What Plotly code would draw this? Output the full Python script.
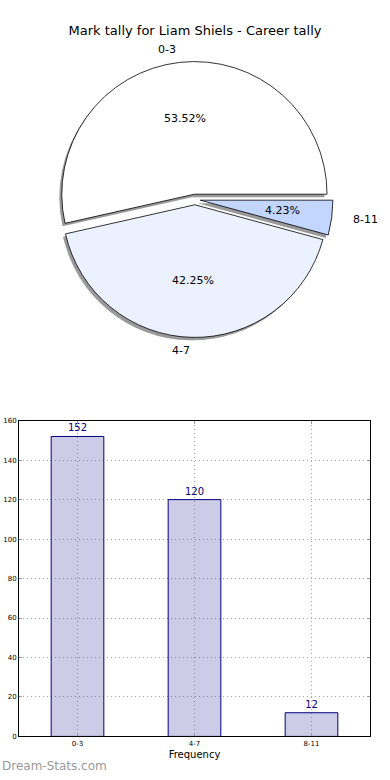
import math
import plotly.graph_objects as go

# ---- data ----
categories = ["0-3", "4-7", "8-11"]
counts = [152, 120, 12]
pie_colors = ["#FFFFFF", "#EBF1FE", "#C2D6FF"]
title_text = "Mark tally for Liam Shiels - Career tally"
y_ticks = [0, 20, 40, 60, 80, 100, 120, 140, 160]

W, H = 390, 780
FONT = "DejaVu Sans"

# pie geometry (pixels)
cx, cy = 195.0, 197.5
pull = 0.04
R = 134.0
Rdom = R * (1 + pull)

total = sum(counts)
# plotly places first slice clockwise from rotation even in ccw mode;
# we want slice 0 to start at 3 o'clock and run counter-clockwise
rot = 90 - 360.0 * counts[0] / total


def dom_x(c, r):
    return [(c - r) / W, (c + r) / W]


def dom_y(c, r):
    return [1 - (c + r) / H, 1 - (c - r) / H]


fig = go.Figure()

# shadow
fig.add_trace(go.Pie(
    values=counts, labels=categories, sort=False,
    direction="counterclockwise", rotation=rot,
    pull=[pull] * len(counts),
    marker=dict(colors=["#9a9a9a"] * len(counts), line=dict(width=0)),
    textinfo="none", hoverinfo="skip", showlegend=False,
    domain=dict(x=dom_x(cx - 2.5, Rdom), y=dom_y(cy + 3, Rdom)),
))
# main pie
fig.add_trace(go.Pie(
    values=counts, labels=categories, sort=False,
    direction="counterclockwise", rotation=rot,
    pull=[pull] * len(counts),
    marker=dict(colors=pie_colors, line=dict(color="black", width=0.8)),
    textinfo="none", showlegend=False,
    domain=dict(x=dom_x(cx, Rdom), y=dom_y(cy, Rdom)),
))

annotations = []
cum = 0
for cat, v in zip(categories, counts):
    theta = 2 * math.pi * (cum + v / 2) / total
    cum += v
    c, s = math.cos(theta), math.sin(theta)
    # percentage text
    rp = 0.6 * R + pull * R
    px = cx + rp * 1.03 * c
    py = cy - rp * 0.96 * s
    annotations.append(dict(
        x=px / W, y=1 - py / H, xref="paper", yref="paper",
        text=f"{100 * v / total:.2f}%", showarrow=False,
        font=dict(family=FONT, size=11, color="black"),
        xanchor="center", yanchor="middle"))
    # outside label
    rl = 1.1 * R + pull * R
    lx = cx + rl * 1.03 * c
    ly = cy - rl * s
    annotations.append(dict(
        x=lx / W, y=1 - ly / H, xref="paper", yref="paper",
        text=cat, showarrow=False,
        font=dict(family=FONT, size=11, color="black"),
        xanchor="left" if c > 0 else "right", yanchor="middle"))

# bar chart
fig.add_trace(go.Bar(
    x=categories, y=counts, width=0.45,
    marker=dict(color="rgba(0,0,128,0.2)", line=dict(color="#000080", width=1)),
    text=[str(v) for v in counts], textposition="outside",
    textfont=dict(family=FONT, size=10, color="#000080"),
    cliponaxis=False, showlegend=False,
    xaxis="x", yaxis="y",
))

annotations.append(dict(
    x=0.0, y=1 - 770 / H, xref="paper", yref="paper",
    text="Dream-Stats.com", showarrow=False,
    font=dict(family=FONT, size=12, color="#9a9a9a"),
    xanchor="left", yanchor="middle"))

grid = dict(showgrid=True, gridcolor="#a8a8a8", griddash="1px,3px", gridwidth=1)

fig.update_layout(
    width=W, height=H,
    margin=dict(l=0, r=0, t=0, b=0),
    paper_bgcolor="white", plot_bgcolor="white",
    font=dict(family=FONT, color="black"),
    title=dict(text=title_text, x=0.5, xanchor="center",
               y=1 - 30 / H, yanchor="middle", yref="container",
               font=dict(family=FONT, size=13, color="black")),
    xaxis=dict(domain=[19 / W, 370 / W], type="category",
               range=[-0.5, 2.5], anchor="y",
               showline=True, linecolor="black", linewidth=1, mirror="ticks",
               ticks="inside", ticklen=3, tickcolor="#999",
               tickfont=dict(family=FONT, size=7, color="black"),
               title=dict(text="Frequency", standoff=4,
                          font=dict(family=FONT, size=10, color="black")),
               zeroline=False, fixedrange=True, **grid),
    yaxis=dict(domain=[1 - 740 / H, 1 - 421 / H], range=[0, 160],
               tickvals=y_ticks, anchor="x",
               showline=True, linecolor="black", linewidth=1, mirror="ticks",
               ticks="inside", ticklen=3, tickcolor="#999",
               tickfont=dict(family=FONT, size=7, color="black"),
               zeroline=False, fixedrange=True, **grid),
    annotations=annotations,
)

fig.write_html("out.html",
               config={"displayModeBar": False},
               post_script="document.body.style.margin='0px';document.body.style.overflow='hidden';")
